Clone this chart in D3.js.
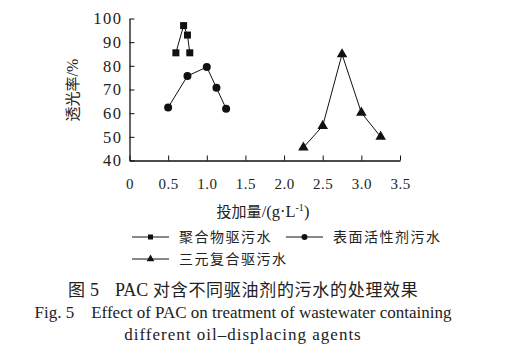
<!DOCTYPE html>
<html>
<head>
<meta charset="utf-8">
<script src="https://cdn.jsdelivr.net/npm/d3@7"></script>
<style>
  body { margin: 0; background: #fff; }
  svg text { fill: #222; }
</style>
</head>
<body>
<div id="chart"></div>
<script>
const width = 514;
const height = 353;

// data
const polymerX = [0.6, 0.7, 0.75, 0.78];
const polymerY = [85.5, 97, 93, 85.5];
const surfX = [0.5, 0.75, 1.0, 1.125, 1.25];
const surfY = [62.4, 75.7, 79.5, 70.7, 61.9];
const asp3X = [2.25, 2.5, 2.75, 3.0, 3.25];
const asp3Y = [45.5, 54.6, 84.9, 60.2, 50.0];

const xTicks = [0, 0.5, 1.0, 1.5, 2.0, 2.5, 3.0, 3.5];
const yTicks = [40, 50, 60, 70, 80, 90, 100];
const seriesNames = ["聚合物驱污水", "表面活性剂污水", "三元复合驱污水"];

const serif = "'Liberation Serif', 'DejaVu Serif', serif";
const cjk = "'Noto Sans CJK SC', sans-serif";

const svg = d3.select("#chart").append("svg")
  .attr("width", width)
  .attr("height", height);

const x = d3.scaleLinear().domain([0, 3.5]).range([129.5, 400]);
const y = d3.scaleLinear().domain([40, 100]).range([160.5, 18.5]);

// x axis, ticks pointing up
const xAxis = svg.append("g")
  .attr("transform", `translate(0,${y(40)})`)
  .call(d3.axisBottom(x).tickValues(xTicks).tickSizeInner(-5).tickSizeOuter(0)
    .tickFormat((d) => d === 0 ? "0" : d3.format(".1f")(d)));
xAxis.select(".domain").attr("stroke", "#111").attr("stroke-width", 1.3);
xAxis.selectAll(".tick line").attr("stroke", "#111");
xAxis.selectAll(".tick text")
  .attr("y", 18)
  .attr("font-family", serif)
  .attr("font-size", 15)
  .attr("letter-spacing", 0.5)
  .attr("fill", "#222");

// y axis, ticks pointing right
const yAxis = svg.append("g")
  .attr("transform", `translate(${x(0)},0)`)
  .call(d3.axisLeft(y).tickValues(yTicks).tickSizeInner(-5).tickSizeOuter(0));
yAxis.select(".domain").attr("stroke", "#111").attr("stroke-width", 1.3);
yAxis.selectAll(".tick line").attr("stroke", "#111");
yAxis.selectAll(".tick text")
  .attr("x", -7)
  .attr("font-family", serif)
  .attr("font-size", 16.5)
  .attr("letter-spacing", 1.5)
  .attr("fill", "#222");

// axis titles
const xTitle = svg.append("text")
  .attr("x", 263).attr("y", 217)
  .attr("text-anchor", "middle")
  .attr("font-family", cjk)
  .attr("font-size", 15);
xTitle.append("tspan").text("投加量");
xTitle.append("tspan").attr("font-family", serif).attr("font-size", 16.5).text("/(g·L");
xTitle.append("tspan").attr("font-family", serif).attr("font-size", 10).attr("dy", -6).text("-1");
xTitle.append("tspan").attr("font-family", serif).attr("font-size", 16.5).attr("dy", 6).text(")");

const yTitle = svg.append("text")
  .attr("transform", "translate(78,90) rotate(-90)")
  .attr("text-anchor", "middle")
  .attr("font-family", cjk)
  .attr("font-size", 15);
yTitle.append("tspan").text("透光率");
yTitle.append("tspan").attr("font-family", serif).attr("font-size", 16).text("/%");

const line = d3.line().x((d) => x(d[0])).y((d) => y(d[1]));
const zip = (xs, ys) => xs.map((v, i) => [v, ys[i]]);

function drawMarker(g, type, cx, cy) {
  if (type === "square") {
    g.append("rect").attr("x", cx - 3.5).attr("y", cy - 3.5)
      .attr("width", 7).attr("height", 7).attr("fill", "#111");
  } else if (type === "circle") {
    g.append("circle").attr("cx", cx).attr("cy", cy).attr("r", 4).attr("fill", "#111");
  } else {
    g.append("path")
      .attr("d", d3.symbol(d3.symbolTriangle, 48)())
      .attr("transform", `translate(${cx},${cy})`)
      .attr("fill", "#111");
  }
}

const series = [
  { pts: zip(polymerX, polymerY), type: "square" },
  { pts: zip(surfX, surfY), type: "circle" },
  { pts: zip(asp3X, asp3Y), type: "triangle" },
];

series.forEach((s) => {
  const g = svg.append("g");
  g.append("path").attr("d", line(s.pts))
    .attr("fill", "none").attr("stroke", "#111").attr("stroke-width", 1);
  s.pts.forEach((p) => drawMarker(g, s.type, x(p[0]), y(p[1])));
});

// legend
const legendPos = [[132, 237], [286, 237], [132, 259]];
series.forEach((s, i) => {
  const [lx, ly] = legendPos[i];
  const g = svg.append("g");
  g.append("line").attr("x1", lx).attr("x2", lx + 37)
    .attr("y1", ly).attr("y2", ly).attr("stroke", "#111");
  if (s.type === "square") {
    g.append("rect").attr("x", lx + 16).attr("y", ly - 2.5).attr("width", 5).attr("height", 5).attr("fill", "#111");
  } else if (s.type === "circle") {
    g.append("circle").attr("cx", lx + 18.5).attr("cy", ly).attr("r", 3).attr("fill", "#111");
  } else {
    g.append("path").attr("d", d3.symbol(d3.symbolTriangle, 26)())
      .attr("transform", `translate(${lx + 18.5},${ly})`).attr("fill", "#111");
  }
  g.append("text").attr("x", lx + 47).attr("y", ly + 5)
    .attr("font-family", cjk).attr("font-size", 14)
    .attr("letter-spacing", 1.5)
    .text(seriesNames[i]);
});

// captions
const cap1 = svg.append("text")
  .attr("y", 296)
  .attr("font-family", cjk).attr("font-size", 17)
  .attr("fill", "#111");
cap1.append("tspan").attr("x", 68).text("图");
cap1.append("tspan").attr("x", 90).attr("font-family", serif).attr("font-size", 18).text("5");
cap1.append("tspan").attr("x", 115).attr("font-family", serif).attr("font-size", 18).text("PAC");
cap1.append("tspan").attr("x", 153).attr("letter-spacing", 0.7).text("对含不同驱油剂的污水的处理效果");

svg.append("text")
  .attr("x", 243).attr("y", 318)
  .attr("text-anchor", "middle")
  .attr("font-family", serif).attr("font-size", 17)
  .attr("xml:space", "preserve")
  .text("Fig. 5    Effect of PAC on treatment of wastewater containing");

svg.append("text")
  .attr("x", 243).attr("y", 340)
  .attr("text-anchor", "middle")
  .attr("font-family", serif).attr("font-size", 17)
  .attr("letter-spacing", 1)
  .text("different oil\u2013displacing agents");
</script>
</body>
</html>
